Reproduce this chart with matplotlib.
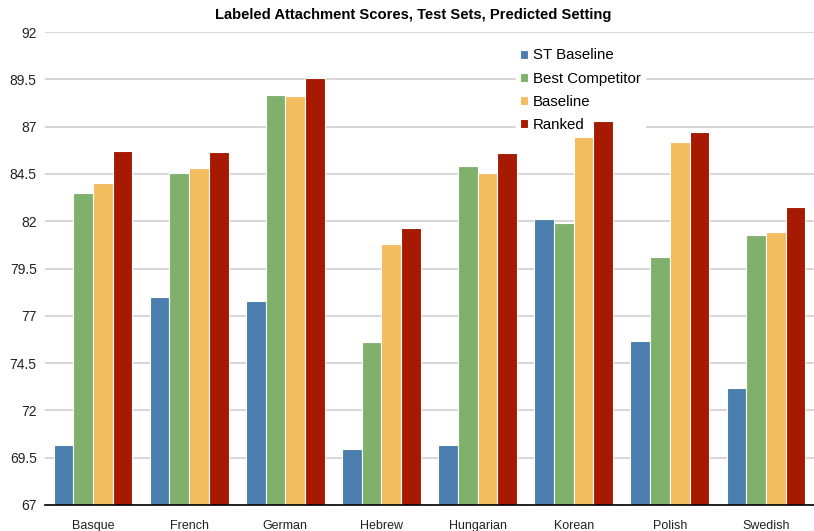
import numpy as np
import matplotlib.pyplot as plt

plt.rcParams['font.family'] = ['Liberation Sans', 'DejaVu Sans']

languages = ['Basque', 'French', 'German', 'Hebrew', 'Hungarian', 'Korean', 'Polish', 'Swedish']
series_names = ['ST Baseline', 'Best Competitor', 'Baseline', 'Ranked']
st_baseline = [70.17, 77.97, 77.79, 69.97, 70.15, 82.09, 75.66, 73.19]
best_competitor = [83.48, 84.55, 88.65, 75.59, 84.90, 81.91, 80.11, 81.26]
baseline = [84.00, 84.83, 88.60, 80.78, 84.55, 86.45, 86.21, 81.43]
ranked = [85.73, 85.66, 89.55, 81.66, 85.61, 87.28, 86.73, 82.76]
colors = ['#4a7ead', '#80b16c', '#f2bc5f', '#a51a00']
yticks = [67, 69.5, 72, 74.5, 77, 79.5, 82, 84.5, 87, 89.5, 92]

fig = plt.figure(figsize=(8.14, 5.31), dpi=100)
ax = fig.add_axes([45 / 814, 26 / 531, 769 / 814, 473 / 531])

x = np.arange(len(languages))
width = 0.205
values = [st_baseline, best_competitor, baseline, ranked]
for i, (vals, name, c) in enumerate(zip(values, series_names, colors)):
    ax.bar(x + (i - 1.5) * width, np.array(vals) - 67, bottom=67, width=width,
           color=c, edgecolor='white', linewidth=0.8, label=name, zorder=3)

ax.set_xlim(-0.5, len(languages) - 0.5)
ax.set_ylim(67, 92)
ax.set_yticks(yticks)
ax.set_yticklabels([f'{t:g}' for t in yticks], fontsize=10, color='#222222')
ax.set_xticks(x)
ax.set_xticklabels(languages, fontsize=9, color='#222222')
ax.tick_params(axis='x', length=0, pad=11)
ax.tick_params(axis='y', length=0, pad=6)
ax.grid(axis='y', color='#cfcfcf', linewidth=1.2, zorder=0)
for s in ['top', 'right', 'left']:
    ax.spines[s].set_visible(False)
ax.spines['bottom'].set_color('black')
ax.spines['bottom'].set_linewidth(1.2)
ax.spines['bottom'].set_zorder(4)

# title sits a little left of the axes centre in the original
fig.text(413.5 / 814, 1 - 15 / 531, 'Labeled Attachment Scores, Test Sets, Predicted Setting',
         fontsize=10.6, fontweight='bold', ha='center', va='center')

leg = ax.legend(loc='upper left', bbox_to_anchor=(0.612, 0.975), frameon=True,
                fontsize=10.8, handlelength=0.55, handleheight=0.55,
                handletextpad=0.3, labelspacing=0.62, borderpad=0.3,
                borderaxespad=0)
leg.get_frame().set_facecolor('white')
leg.get_frame().set_edgecolor('white')
leg.get_frame().set_alpha(1)
leg.set_zorder(2)

fig.savefig('out.png', dpi=100)
